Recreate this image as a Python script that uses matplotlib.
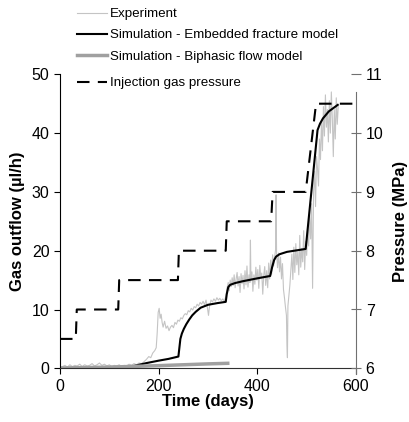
import matplotlib
matplotlib.use("Agg")
import matplotlib.pyplot as plt

plt.rcParams['font.family'] = ['Liberation Sans', 'DejaVu Sans']

# Experiment (gas outflow, ul/h), 10 values per row
exp_days = [0, 5, 10, 15, 20, 25, 30, 35, 40, 45,
            50, 55, 60, 65, 70, 75, 80, 85, 90, 95,
            100, 105, 110, 115, 120, 125, 130, 135, 140, 145,
            150, 155, 160, 165, 170, 175, 180, 184, 188, 192,
            195, 197, 199, 201, 203, 205, 207, 209, 212, 215,
            218, 221, 224, 227, 230, 233, 236, 239, 242, 245,
            248, 251, 254, 257, 260, 263, 266, 269, 272, 275,
            278, 281, 284, 287, 290, 293, 296, 299, 301, 303,
            306, 309, 312, 315, 318, 321, 324, 327, 330, 333,
            336, 339, 341, 343, 345, 347, 349, 351, 353, 355,
            357, 359, 361, 363, 365, 367, 369, 371, 373, 375,
            377, 379, 381, 383, 385, 386, 387, 389, 391, 393,
            395, 397, 399, 401, 403, 405, 407, 409, 411, 413,
            415, 417, 419, 421, 423, 425, 427, 429, 431, 433,
            435, 437, 438, 439, 441, 443, 445, 447, 449, 451,
            453, 455, 457, 459, 460, 461, 462, 464, 466, 468,
            470, 472, 474, 476, 478, 480, 482, 484, 486, 488,
            490, 492, 494, 496, 498, 500, 502, 504, 506, 508,
            510, 512, 514, 516, 518, 520, 522, 524, 526, 528,
            530, 532, 534, 536, 538, 540, 542, 544, 546, 548,
            550, 552, 554, 556, 558, 560, 562, 564]
exp_flow = [0.0, 0.3, 0.5, 0.2, 0.6, 0.3, 0.5, 0.4, 0.7, 0.3,
            0.6, 0.4, 0.5, 0.8, 0.4, 0.6, 0.9, 0.5, 0.7, 0.4,
            0.6, 0.3, 0.5, 0.4, 0.6, 0.3, 0.5, 0.4, 0.7, 0.5,
            0.8, 0.6, 0.9, 0.8, 1.1, 1.5, 2.0, 1.8, 2.6, 3.0,
            3.5, 6.0, 9.5, 10.2, 8.5, 9.2, 7.8, 7.0, 8.0, 6.8,
            7.2, 6.4, 7.0, 7.3, 6.9, 7.8, 7.5, 8.2, 8.0, 8.6,
            8.4, 9.0, 9.3, 9.1, 9.8, 9.6, 10.2, 9.9, 10.5, 10.3,
            10.9, 10.6, 11.2, 10.9, 11.4, 10.8, 11.6, 10.2, 9.0, 10.5,
            11.6, 11.3, 11.8, 11.4, 12.0, 11.6, 11.9, 11.5, 11.8, 11.4,
            12.2, 13.8, 14.6, 13.2, 15.0, 13.9, 15.4, 14.1, 15.9, 13.7,
            15.2, 16.3, 14.0, 15.6, 12.9, 16.1, 14.4, 15.8, 13.5, 16.6,
            14.2, 17.4, 13.8, 15.9, 14.6, 21.8, 15.1, 16.4, 13.1, 15.9,
            14.3, 17.2, 15.0, 16.8, 13.6, 17.5, 15.4, 16.2, 12.6, 15.8,
            17.3, 14.1, 16.6, 13.7, 17.9, 15.2, 18.4, 16.0, 19.3, 17.4,
            18.8, 20.2, 29.5, 19.6, 17.1, 19.6, 16.4, 18.9, 15.2, 17.8,
            13.4, 12.0, 10.4, 9.0, 4.0, 1.8, 10.6, 12.4, 14.2, 16.8,
            19.4, 15.1, 20.6, 16.3, 21.2, 17.6, 19.8, 15.9, 22.6, 17.2,
            20.4, 18.1, 23.4, 16.8, 21.6, 19.2, 24.1, 20.8, 26.0, 22.0,
            28.0, 13.6, 30.0, 33.5, 27.5, 36.0, 34.0, 31.0, 39.0, 35.5,
            42.0, 37.0, 44.5, 39.5, 46.5, 41.0, 44.0, 38.5, 45.5, 40.0,
            47.0, 42.5, 36.0, 44.0, 39.0, 46.0, 41.5, 44.5]

# Simulation - embedded fracture model
emb_days = [0, 50, 100, 130, 150, 176, 200, 220, 240, 242,
            244, 247, 251, 256, 262, 268, 275, 285, 300, 320,
            336, 338, 341, 345, 355, 370, 400, 426, 430, 434,
            438, 445, 460, 475, 498, 522, 527, 533, 545, 563]
emb_flow = [0.0, 0.0, 0.1, 0.2, 0.4, 0.9, 1.3, 1.6, 2.0, 3.5,
            5.0, 5.9, 6.7, 7.5, 8.3, 9.0, 9.6, 10.3, 10.8, 11.1,
            11.3, 12.6, 13.8, 14.2, 14.5, 14.8, 15.3, 15.7, 17.2, 18.4,
            19.0, 19.4, 19.8, 20.0, 20.3, 40.5, 41.6, 42.5, 43.7, 44.8]

# Simulation - biphasic flow model
bip_days = [0, 100, 200, 250, 300, 340]
bip_flow = [0.05, 0.2, 0.45, 0.6, 0.75, 0.85]

# Injection gas pressure (MPa)
p_days = [0, 32, 34, 118, 120, 239, 241, 336, 338, 428, 431, 498, 519, 596]
p_mpa = [6.5, 6.5, 7.0, 7.0, 7.5, 7.5, 8.0, 8.0, 8.5, 8.5, 9.0, 9.0, 10.5, 10.5]

fig = plt.figure(figsize=(4.10, 4.22), dpi=100)
ax = fig.add_axes([60/410, 1-368.3/422, 296/410, 294/422])
ax2 = ax.twinx()

l1, = ax.plot(exp_days, exp_flow, color='#c4c4c4', lw=0.8, label='Experiment')
l2, = ax.plot(emb_days, emb_flow, color='black', lw=1.5, label='Simulation - Embedded fracture model')
l3, = ax.plot(bip_days, bip_flow, color='#a0a0a0', lw=2.5, label='Simulation - Biphasic flow model')
l4, = ax2.plot(p_days, p_mpa, color='black', lw=1.5, dashes=(6, 4), label='Injection gas pressure')

ax.set_xlim(0, 600)
ax.set_ylim(0, 50)
ax2.set_ylim(6, 11)
ax.set_xticks([0, 200, 400, 600])
ax.set_yticks([0, 10, 20, 30, 40, 50])
ax2.set_yticks([6, 7, 8, 9, 10, 11])

for a in (ax, ax2):
    a.spines['top'].set_visible(False)
ax.spines['right'].set_visible(False)
ax2.spines['left'].set_visible(False)
ax2.spines['bottom'].set_visible(False)
ax2.spines['right'].set_color('#707070')
ax2.spines['right'].set_bounds(5.9, 10.7)
ax.spines['bottom'].set_color('#303030')

ax.tick_params(axis='both', direction='out', length=4, labelsize=11.5, width=0.8)
ax2.tick_params(axis='y', direction='inout', length=7, labelsize=11.5, color='#707070', width=0.8)

ax.set_xlabel('Time (days)', fontsize=12, fontweight='bold', labelpad=0)
ax.set_ylabel('Gas outflow (\u00b5l/h)', fontsize=12, fontweight='bold', labelpad=5)
ax2.set_ylabel('Pressure (MPa)', fontsize=12, fontweight='bold', labelpad=7)

# legend in two pieces: the last row sits a bit lower in the original
leg_kw = dict(loc='upper left', frameon=False, fontsize=9.6, handlelength=2.25,
              handletextpad=0.25, labelspacing=0.66, borderaxespad=0.0, borderpad=0.0)
fig.legend(handles=[l1, l2, l3], bbox_to_anchor=(77/410, 1 - 8/422), **leg_kw)
fig.legend(handles=[l4], bbox_to_anchor=(77/410, 1 - 77/422), **leg_kw)

fig.savefig('out.png', dpi=100)
